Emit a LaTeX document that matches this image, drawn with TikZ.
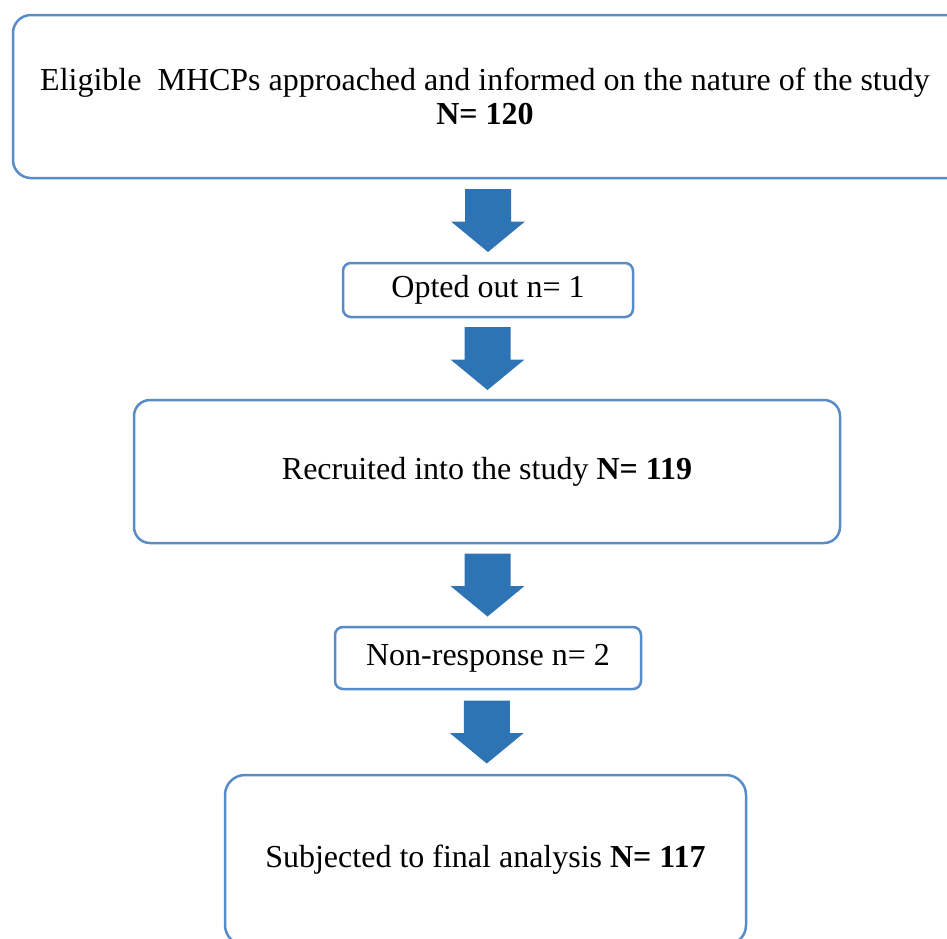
\documentclass[tikz,border=0pt]{standalone}
\usepackage{fontspec}
\setmainfont{Liberation Serif}
\usetikzlibrary{calc}
\definecolor{boxline}{RGB}{88,140,200}
\definecolor{arrowblue}{RGB}{46,116,181}
\tikzset{
  stage/.style={draw=boxline, line width=2.5pt, fill=white, rounded corners=#1,
    inner sep=0pt, align=center, text=black,
    font=\fontsize{32}{34}\selectfont},
  stage/.default=14pt,
  downarrow/.pic={
    \fill[arrowblue] (-23,-31.5) -- (23,-31.5) -- (23,1) -- (37,1) -- (0,31.5)
      -- (-37,1) -- (-23,1) -- cycle;
  }
}
\begin{document}
\begin{tikzpicture}[x=1pt, y=-1pt]
  \useasboundingbox (0,0) rectangle (947,938);
  \clip (0,0) rectangle (947,938);

  % flow stages (the first one runs past the right edge of the page)
  \node[stage=18pt, minimum width=974pt, minimum height=163pt] (elig) at (500,96.5)
    {\raisebox{-4pt}[\height][\depth]{\begin{tabular}{@{}c@{}}Eligible\ \ MHCPs approached and informed on the nature of the study\\[0pt]
     \textbf{N= 120}\end{tabular}}\hspace*{30pt}};
  \node[stage=8pt, minimum width=290pt, minimum height=54pt] (opt) at (488,290)
    {Opted out n= 1};
  \node[stage=16pt, minimum width=706pt, minimum height=143pt] (rec) at (487,471.5)
    {Recruited into the study \textbf{N= 119}};
  \node[stage=8pt, minimum width=306pt, minimum height=62pt] (nonr) at (488,658)
    {Non-response n= 2};
  \node[stage=20pt, minimum width=521pt, minimum height=170pt] (final) at (485.5,860)
    {Subjected to final analysis \textbf{N= 117}};

  % block arrows between stages
  \path ($(elig.south -| opt.north)!0.5!(opt.north)$) pic {downarrow};
  \path ($(opt.south)!0.5!(rec.north)$) pic {downarrow};
  \path ($(rec.south)!0.5!(nonr.north)$) pic {downarrow};
  \path ($(nonr.south)!0.5!(final.north)$) pic {downarrow};
\end{tikzpicture}
\end{document}
